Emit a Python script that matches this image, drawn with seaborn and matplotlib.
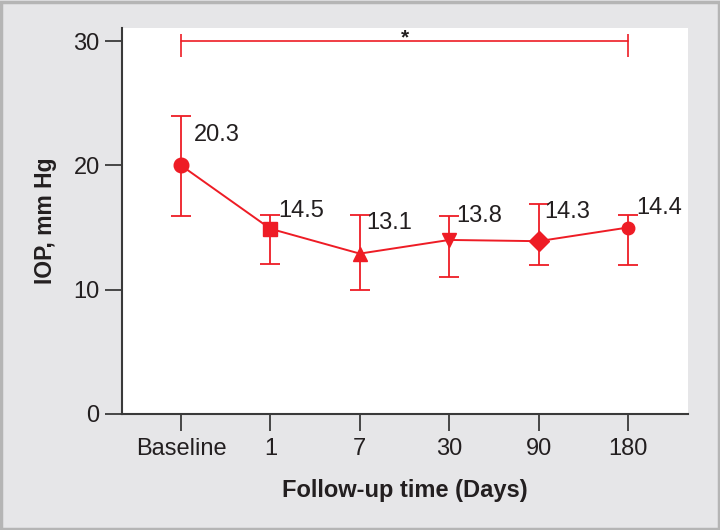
import pandas as pd
import matplotlib.pyplot as plt
from matplotlib.patches import Rectangle
import seaborn as sns

# Datos
time_labels = ['Baseline', '1', '7', '30', '90', '180']
iop_mean = [20.0, 14.9, 12.9, 14.0, 13.9, 15.0]
err_upper = [24.0, 16.0, 16.0, 15.9, 16.9, 16.0]
err_lower = [15.9, 12.1, 10.0, 11.0, 12.0, 12.0]
value_labels = ['20.3', '14.5', '13.1', '13.8', '14.3', '14.4']
marker_list = ['o', 's', '^', 'v', 'D', 'o']
sig_level = 30

# Estilo
red = '#ee1c25'
ink = '#231f20'
label_offsets = [(9, 22), (6, 13), (5, 22), (5, 17), (4, 21), (6, 14)]

sns.set_theme(style='white')
plt.rcParams['font.family'] = ['Liberation Sans', 'DejaVu Sans']

df = pd.DataFrame({'pos': range(len(time_labels)), 'time': time_labels, 'iop': iop_mean})

fig = plt.figure(figsize=(7.2, 5.3), dpi=100)
fig.patch.set_facecolor('#e6e6e8')
fig.add_artist(Rectangle((0.001, 0.002), 0.997, 0.995, transform=fig.transFigure,
                         fill=False, edgecolor='#b5b5b5', linewidth=2.5))
ax = fig.add_axes([0.1694, 0.2189, 0.786, 0.7283])
ax.set_facecolor('white')

# Barras de error
yerr = [[m - lo for m, lo in zip(iop_mean, err_lower)],
        [hi - m for m, hi in zip(iop_mean, err_upper)]]
ax.errorbar(df['pos'], df['iop'], yerr=yerr, fmt='none', ecolor=red,
            elinewidth=1.3, capsize=7, capthick=1.3, zorder=2)

# Línea y marcadores
sns.lineplot(data=df, x='pos', y='iop', color=red, linewidth=1.4, ax=ax, zorder=3)
for i, row in df.iterrows():
    size = 9 if i == len(df) - 1 else 10.5
    ax.plot(row['pos'], row['iop'], marker=marker_list[i], color=red,
            markersize=size, linestyle='none', zorder=4)

# Etiquetas de valores
for i, row in df.iterrows():
    ax.annotate(value_labels[i], (row['pos'], row['iop']), xytext=label_offsets[i],
                textcoords='offset points', ha='left', va='center',
                fontsize=17, color=ink)

# Barra de significancia
ax.errorbar([0, len(df) - 1], [sig_level, sig_level], yerr=[[1.3, 1.3], [0.6, 0.6]],
            fmt='none', ecolor=red, elinewidth=1.2, capsize=0)
ax.plot([0, len(df) - 1], [sig_level, sig_level], color=red, linewidth=1.2)
ax.annotate('*', ((len(df) - 1) / 2, sig_level), xytext=(0, -1.5),
            textcoords='offset points', ha='center', va='baseline',
            fontsize=15, fontweight='bold', color=ink)

# Ejes
ax.set_xlim(-0.66, 5.67)
ax.set_ylim(0, 31.05)
ax.set_xticks(df['pos'])
ax.set_xticklabels(time_labels)
ax.set_yticks([0, 10, 20, 30])
ax.tick_params(axis='both', direction='out', colors='#3a3a3a', labelcolor=ink,
               labelsize=17, width=1.3, left=True, bottom=True)
ax.tick_params(axis='y', length=12, pad=4)
ax.tick_params(axis='x', length=12, pad=5)
for side in ['top', 'right']:
    ax.spines[side].set_visible(False)
for side in ['left', 'bottom']:
    ax.spines[side].set_color('#3a3a3a')
    ax.spines[side].set_linewidth(1.5)

ax.set_xlabel('Follow-up time (Days)', fontsize=17, fontweight='bold', color=ink, labelpad=14)
ax.set_ylabel('IOP, mm Hg', fontsize=16.5, fontweight='bold', color=ink, labelpad=12)

plt.savefig('out.png', dpi=100, facecolor=fig.get_facecolor())
plt.close()
